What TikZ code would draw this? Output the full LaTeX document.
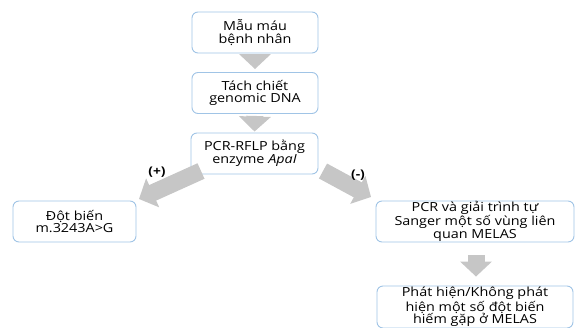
\documentclass[tikz,border=0pt]{standalone}
\usepackage{fontspec}
\setmainfont{Open Sans}[FakeStretch=1.15]
\usepackage{xcolor}
\usetikzlibrary{arrows.meta, positioning, calc}

\definecolor{boxblue}{RGB}{160,196,230}
\definecolor{arrowgray}{RGB}{198,198,198}

\begin{document}
\begin{tikzpicture}[
    x=1pt, y=-1pt,
    box/.style={draw=boxblue, line width=0.9pt, rounded corners=6pt, fill=white,
                align=center, inner sep=0pt, minimum height=41pt,
                font=\fontsize{12.5}{12.7}\selectfont},      % Rounded step boxes
    sign/.style={font=\fontsize{12}{13}\selectfont\bfseries}, % (+) / (-) labels
    fatarrow/.style={draw=arrowgray, line width=17pt,
                     -{Triangle[width=31pt, length=15pt]}}     % Thick gray block arrows
]

\useasboundingbox (0,0) rectangle (576,327);
\clip (0,0) rectangle (576,327);

% --- MAIN COLUMN ---
\node[box, minimum width=126pt] (mau)   at (255,32.5)  {Mẫu máu\\bệnh nhân};
\node[box, minimum width=126pt] (tach)  at (255,93)    {Tách chiết\\genomic DNA};
\node[box, minimum width=127pt] (rflp)  at (254.5,153.5) {PCR-RFLP bằng\\enzyme \textit{ApaI}};

% --- RESULTS ---
\node[box, minimum width=123pt] (dotbien) at (74.5,221.5) {Đột biến\\m.3243A>G};
\node[box, minimum width=198pt] (sanger)  at (475,221.5)  {PCR và giải trình tự\\Sanger một số vùng liên\\quan MELAS};
\node[box, minimum width=196pt, minimum height=42pt] (phathien) at (475,307) {Phát hiện/Không phát\\hiện một số đột biến\\hiếm gặp ở MELAS};

% --- ARROW END POINTS FOR THE BRANCHES ---
\coordinate (lt) at (201,171);
\coordinate (lh) at (139,199);
\coordinate (rt) at (323,171);
\coordinate (rh) at (371,197);

% --- BLOCK ARROWS ---
\draw[fatarrow, shorten <=1pt, shorten >=3pt] (mau.south) -- (tach.north);
\draw[fatarrow, shorten <=2pt, shorten >=1pt] (tach.south) -- (rflp.north);
\draw[fatarrow] (lt) -- (lh);
\draw[fatarrow] (rt) -- (rh);
\draw[fatarrow, shorten <=13pt, shorten >=9pt] ($(sanger.south)+(1,0)$) -- ($(phathien.north)+(1,0)$);

% --- BRANCH LABELS ---
\node[sign] (plus)  at (157,172) {(+)};
\node[sign] (minus) at (358,175) {(-)};

\end{tikzpicture}
\end{document}
